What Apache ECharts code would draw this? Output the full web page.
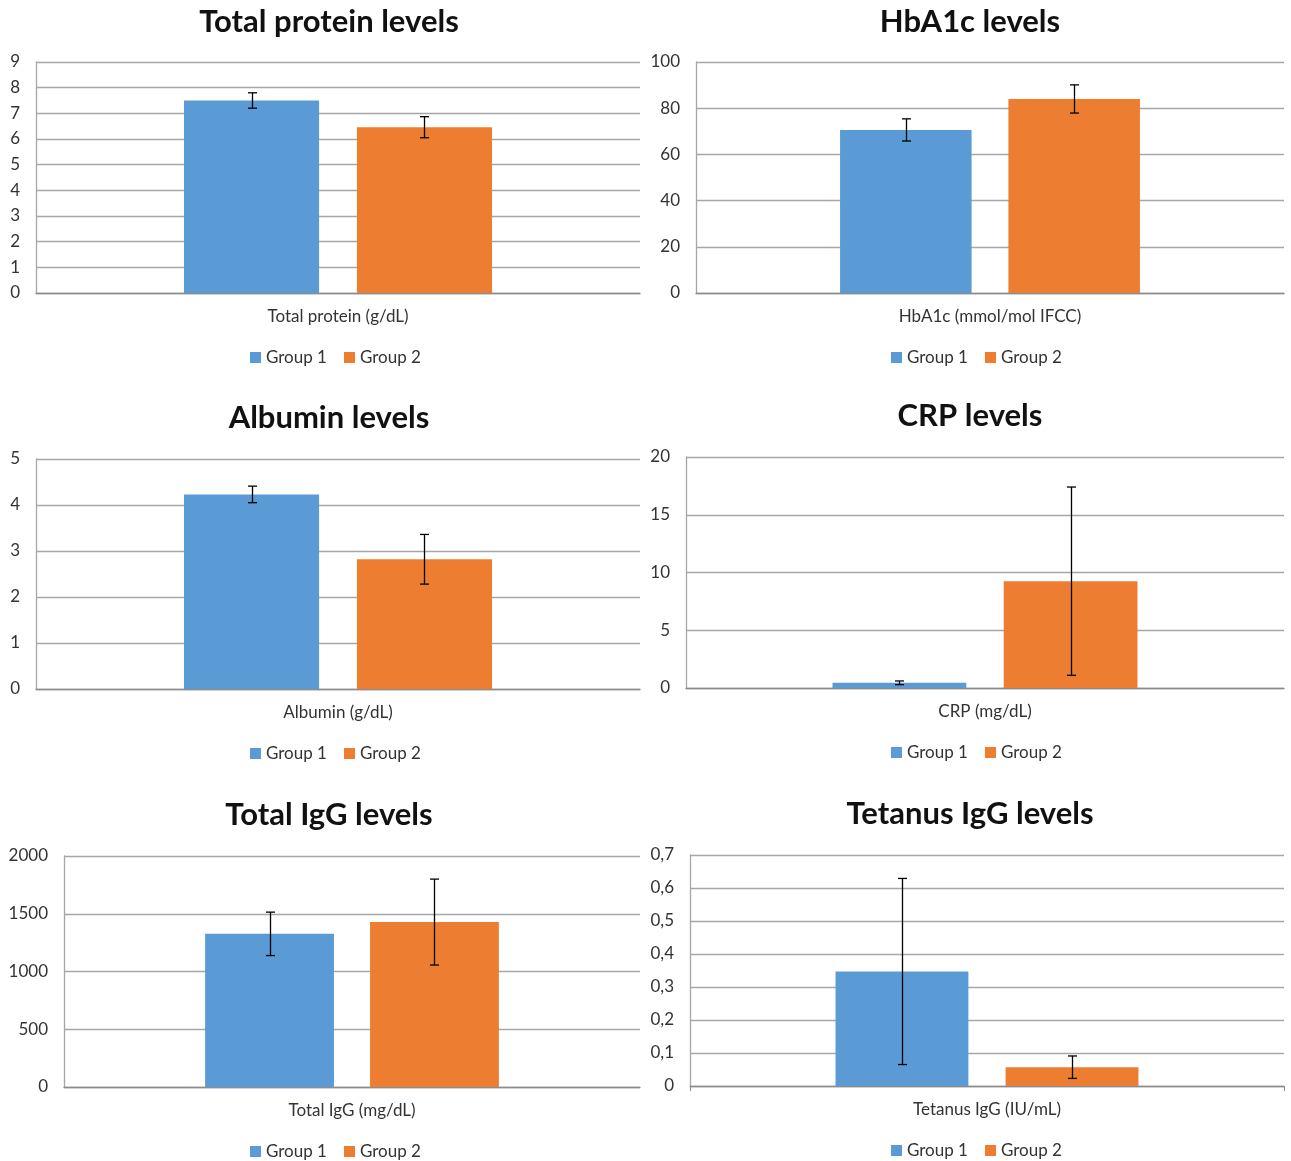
<!DOCTYPE html>
<html>
<head>
<meta charset="utf-8">
<script src="https://cdn.jsdelivr.net/npm/echarts@6/dist/echarts.min.js"></script>
<style>
  html, body { margin: 0; padding: 0; background: #fff; }
  #chart { width: 1291px; height: 1161px; }
</style>
</head>
<body>
<div id="chart"></div>
<script>
// Panel titles and category labels
const titles = ['Total protein levels', 'HbA1c levels', 'Albumin levels', 'CRP levels', 'Total IgG levels', 'Tetanus IgG levels'];
const categories = ['Total protein (g/dL)', 'HbA1c (mmol/mol IFCC)', 'Albumin (g/dL)', 'CRP (mg/dL)', 'Total IgG (mg/dL)', 'Tetanus IgG (IU/mL)'];
const seriesNames = ['Group 1', 'Group 2'];

// Means and standard deviations per panel
const group1Mean = [7.5, 70.6, 4.23, 0.45, 1326, 0.347];
const group1SD   = [0.3, 4.8, 0.18, 0.16, 188, 0.282];
const group2Mean = [6.46, 84.0, 2.82, 9.25, 1428, 0.057];
const group2SD   = [0.41, 6.1, 0.54, 8.15, 372, 0.034];

// Value-axis ranges and tick steps
const yMax  = [9, 100, 5, 20, 2000, 0.7];
const yStep = [1, 20, 1, 5, 500, 0.1];

const colors = ['#5b9bd5', '#ed7d31'];
const textColor = '#333';
const font = 'Lato, "Open Sans", sans-serif';

// Pixel layout of each panel
const layout = [
  { left: 36,  right: 651, top: 62,  height: 231, cx: 324, ty: 1,   legendX: 245, legendY: 344 },
  { left: 696, right: 7,   top: 62,  height: 231, cx: 965, ty: 1,   legendX: 886, legendY: 344 },
  { left: 36,  right: 651, top: 459, height: 230, cx: 324, ty: 397, legendX: 245, legendY: 740 },
  { left: 686, right: 7,   top: 457, height: 231, cx: 965, ty: 395, legendX: 886, legendY: 739 },
  { left: 64,  right: 651, top: 856, height: 231, cx: 324, ty: 794, legendX: 245, legendY: 1138 },
  { left: 690, right: 7,   top: 855, height: 231, cx: 965, ty: 793, legendX: 886, legendY: 1137 }
];

const CAT_GAP = 0.49;
const BAR_GAP = 0.28;

function tickFormatter(i) {
  return function (v) {
    if (i === 5) return v === 0 ? '0' : v.toFixed(1).replace('.', ',');
    return String(v);
  };
}

// Error bars drawn at the centre of each bar
function errorRender(params, api) {
  const cat = api.value(0);
  const mean = api.value(1);
  const sd = api.value(2);
  const g = api.value(3);
  const catW = api.size([1, 0])[0];
  const bw = catW * (1 - CAT_GAP) / (2 + BAR_GAP);
  const off = (bw + bw * BAR_GAP) / 2 * (g === 0 ? -1 : 1);
  const top = api.coord([cat, mean + sd]);
  const bot = api.coord([cat, mean - sd]);
  const x = Math.round(top[0] + off) + 0.5;
  const cap = 4.5;
  const style = { stroke: '#000', lineWidth: 1.3 };
  return {
    type: 'group',
    children: [
      { type: 'line', shape: { x1: x, y1: top[1], x2: x, y2: bot[1] }, style },
      { type: 'line', shape: { x1: x - cap, y1: top[1], x2: x + cap, y2: top[1] }, style },
      { type: 'line', shape: { x1: x - cap, y1: bot[1], x2: x + cap, y2: bot[1] }, style }
    ]
  };
}

const grid = [], xAxis = [], yAxis = [], series = [], title = [], legend = [];

layout.forEach((L, i) => {
  grid.push({ left: L.left, right: L.right, top: L.top, height: L.height });
  title.push({
    text: titles[i], left: L.cx, top: L.ty, textAlign: 'center',
    textStyle: { fontFamily: font, fontWeight: 'bold', fontSize: 31, color: '#111' }
  });
  legend.push({
    data: seriesNames, left: L.legendX, top: L.legendY,
    itemWidth: 11, itemHeight: 11, itemGap: 17, icon: 'rect',
    textStyle: { fontFamily: font, fontSize: 17, color: textColor }
  });
  xAxis.push({
    type: 'category', gridIndex: i, data: [categories[i]],
    axisLine: { lineStyle: { color: '#8c8c8c', width: 1.3 } },
    axisTick: { show: i === 5, length: 5, lineStyle: { color: '#8c8c8c' } },
    axisLabel: { margin: 15, fontFamily: font, fontSize: 17, color: textColor }
  });
  yAxis.push({
    type: 'value', gridIndex: i, min: 0, max: yMax[i], interval: yStep[i],
    axisLine: { show: true, lineStyle: { color: '#a6a6a6', width: 1.3 } },
    axisTick: { show: false },
    splitLine: { lineStyle: { color: '#a6a6a6', width: 1.3 } },
    axisLabel: { margin: 16, fontFamily: font, fontSize: 17, color: textColor, formatter: tickFormatter(i) }
  });
  const means = [group1Mean[i], group2Mean[i]];
  const sds = [group1SD[i], group2SD[i]];
  seriesNames.forEach((name, g) => {
    series.push({
      name, type: 'bar', xAxisIndex: i, yAxisIndex: i,
      data: [means[g]],
      itemStyle: { color: colors[g] },
      barGap: (BAR_GAP * 100) + '%', barCategoryGap: (CAT_GAP * 100) + '%',
      silent: true
    });
  });
  series.push({
    type: 'custom', xAxisIndex: i, yAxisIndex: i, z: 5, silent: true,
    renderItem: errorRender,
    data: [[0, means[0], sds[0], 0], [0, means[1], sds[1], 1]]
  });
});

const chart = echarts.init(document.getElementById('chart'), null, { renderer: 'canvas' });
chart.setOption({
  animation: false,
  color: colors,
  title, legend, grid, xAxis, yAxis, series
});
</script>
</body>
</html>
